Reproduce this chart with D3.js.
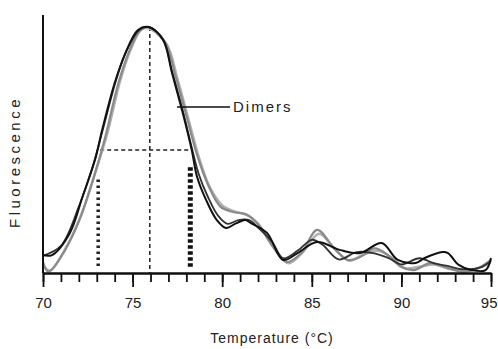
<!DOCTYPE html>
<html>
<head>
<meta charset="utf-8">
<script src="https://cdn.jsdelivr.net/npm/d3@7"></script>
<style>
  body { margin: 0; background: #fff; }
  svg { font-family: Arial, "Liberation Sans", sans-serif; }
</style>
</head>
<body>
<svg id="chart" width="498" height="349"></svg>
<script>
// melt curves, [temperature, fluorescence %]
var black1 = [[70,7.3],[70.5,7.3],[71.5,16.3],[72.2,30.9],[72.9,45.9],[73.3,58.1],[74,77.2],[74.6,89.4],[75.3,98.8],[75.9,100],
  [76.7,94.7],[77.2,81.3],[77.8,65],[78.3,50],[78.6,39],[79.1,29.7],[79.7,21.5],[80.2,18.3],[80.8,20.3],[81.3,21.5],[81.6,20.3],
  [82.5,16.3],[83.4,5.3],[84.2,8.1],[85.3,12.6],[86.6,9.3],[87.7,8.1],[88.9,12.2],[89.8,5.3],[90.8,4.1],[91.3,6.1],[92.3,8.5],
  [92.6,8.1],[93.2,3.3],[93.9,1.2],[94.7,1.2],[95,6.1]];
var black2 = [[70,7],[71,11],[72,27],[72.8,44],[73.4,60],[74.1,79],[74.7,91],[75.4,99],[75.9,100],
  [76.7,95],[77.2,82],[77.8,66],[78.3,51],[78.7,40],[79.2,31],[79.8,23],[80.3,20],[80.9,21.5],[81.5,21.5],[82,18.5],
  [82.8,12.5],[83.4,6],[84.2,9],[85,13.5],[85.6,11.5],[86.5,5.5],[87.5,8.5],[88.5,8],[89.3,6],[90,3.5],[91,6],
  [91.8,4],[92.5,3],[93.5,1.5],[94.5,2.5],[95,5]];
var gray1 = [[70,4.5],[70.3,0.5],[71,6.5],[72,21],[73,43],[73.5,56],[74.2,77],[74.8,90],[75.4,98.5],[75.9,100],
  [76.8,94],[77.4,80],[78,64],[78.6,48],[79.2,36],[79.9,27],[80.6,24.8],[81.3,24],[82,20],[82.8,11],[83.6,4.5],
  [84.4,8],[85.3,17.5],[86.2,10.5],[87,5.3],[87.7,6.5],[88.5,10],[89.3,7],[90,2.4],[90.7,1.2],[91.6,4],[92.6,2],
  [93.5,0.4],[94.3,2],[95,5.3]];
var gray2 = [[70,3],[70.4,1],[71.1,8],[72.1,23],[73.1,45],[73.6,57],[74.3,78],[74.9,91],[75.5,99],[75.9,99.5],
  [76.9,93],[77.5,79],[78.1,63],[78.7,47],[79.3,35],[80,27.5],[80.7,25],[81.4,23.5],[82.1,19],[82.9,10],[83.7,4],
  [84.5,8.5],[85.4,16],[86.3,9.5],[87.1,5],[87.9,7.5],[88.7,9],[89.5,6],[90.2,2],[91,2.5],[91.8,3.5],[92.8,1.5],
  [93.7,1],[94.5,2.5],[95,4.5]];

var peakTemp = 75.96, halfMax = 50, leftTemp = 73.08, rightTemp = 78.22;
var majorTicks = [70, 75, 80, 85, 90, 95];
var minorTicks = d3.range(70, 96, 1);

var svg = d3.select("#chart");
var x = d3.scaleLinear().domain([70, 95]).range([43, 491]);
var y = d3.scaleLinear().domain([0, 100]).range([273, 27]);

// marker lines
svg.append("line")
  .attr("x1", x(peakTemp)).attr("x2", x(peakTemp))
  .attr("y1", y(100)).attr("y2", y(0))
  .attr("stroke", "#222").attr("stroke-width", 1.5).attr("stroke-dasharray", "4,3");
svg.append("line")
  .attr("x1", x(leftTemp) + 2).attr("x2", x(rightTemp) - 1)
  .attr("y1", y(halfMax)).attr("y2", y(halfMax))
  .attr("stroke", "#222").attr("stroke-width", 1.5).attr("stroke-dasharray", "4,3");
svg.append("line")
  .attr("x1", x(leftTemp)).attr("x2", x(leftTemp))
  .attr("y1", y(38)).attr("y2", y(2.5))
  .attr("stroke", "#222").attr("stroke-width", 3.5).attr("stroke-dasharray", "2.5,3.5");
svg.append("line")
  .attr("x1", x(rightTemp)).attr("x2", x(rightTemp))
  .attr("y1", y(43)).attr("y2", y(2.5))
  .attr("stroke", "#111").attr("stroke-width", 5).attr("stroke-dasharray", "3.5,2.5");

// curves
var line = d3.line()
  .x(function(d) { return x(d[0]); })
  .y(function(d) { return y(d[1]); })
  .curve(d3.curveCatmullRom);

var series = [
  {data: gray2, color: "#b0b0b0", w: 2.5},
  {data: gray1, color: "#8a8a8a", w: 2.2},
  {data: black2, color: "#333", w: 1.8},
  {data: black1, color: "#111", w: 2}
];
svg.selectAll(".curve")
  .data(series)
  .enter().append("path")
  .attr("class", "curve")
  .attr("d", function(d) { return line(d.data); })
  .attr("fill", "none")
  .attr("stroke", function(d) { return d.color; })
  .attr("stroke-width", function(d) { return d.w; })
  .attr("stroke-linejoin", "round");

// axes
svg.append("line")
  .attr("x1", 43).attr("x2", 43)
  .attr("y1", 15).attr("y2", y(0))
  .attr("stroke", "#111").attr("stroke-width", 2);

var minorAxis = svg.append("g")
  .attr("transform", "translate(0," + y(0) + ")")
  .call(d3.axisBottom(x).tickValues(minorTicks).tickSize(9).tickFormat("").tickSizeOuter(0));
var majorAxis = svg.append("g")
  .attr("transform", "translate(0," + y(0) + ")")
  .call(d3.axisBottom(x).tickValues(majorTicks).tickSize(14).tickPadding(10).tickSizeOuter(0));

svg.selectAll(".domain").attr("stroke", "#111").attr("stroke-width", 2);
svg.selectAll(".tick line").attr("stroke", "#111").attr("stroke-width", 1.8);
majorAxis.selectAll(".tick text").attr("font-size", 15).attr("fill", "#222");
// last label would run off the right edge
majorAxis.selectAll(".tick text")
  .filter(function(d) { return d === 95; })
  .attr("text-anchor", "end").attr("dx", 6);

// labels
svg.append("text")
  .attr("x", 272).attr("y", 343)
  .attr("text-anchor", "middle")
  .attr("font-size", 14).attr("letter-spacing", 1)
  .attr("fill", "#222")
  .text("Temperature (°C)");

svg.append("text")
  .attr("transform", "translate(20,162) rotate(-90)")
  .attr("text-anchor", "middle")
  .attr("font-size", 15).attr("letter-spacing", 3.5)
  .attr("fill", "#222")
  .text("Fluorescence");

svg.append("line")
  .attr("x1", 177).attr("x2", 230)
  .attr("y1", 107).attr("y2", 107)
  .attr("stroke", "#111").attr("stroke-width", 1.5);
svg.append("text")
  .attr("x", 233).attr("y", 112)
  .attr("font-size", 15).attr("letter-spacing", 2)
  .attr("fill", "#222")
  .text("Dimers");
</script>
</body>
</html>
